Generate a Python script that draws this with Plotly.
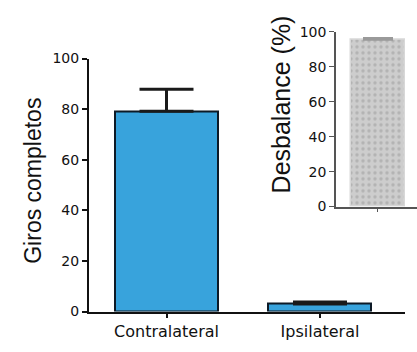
import plotly.graph_objects as go

W, H = 417, 352

categories = ["Contralateral", "Ipsilateral"]
giros = [79.2, 3.0]
giros_err = [8.7, 0.8]
y_ticks = [0, 20, 40, 60, 80, 100]

desbalance = [95.5]
desbalance_err = [1.0]
inset_x = [0]

fig = go.Figure()

fig.add_trace(go.Bar(
    x=categories, y=giros, width=0.671,
    marker=dict(color="#38A3DC", line=dict(color="#0d1a26", width=2)),
    error_y=dict(type="data", symmetric=False, array=giros_err,
                 arrayminus=[0, 0], color="#1a1a1a", thickness=3, width=27),
    xaxis="x", yaxis="y", showlegend=False,
))

fig.add_trace(go.Bar(
    x=inset_x, y=desbalance, width=1,
    marker=dict(color="#c9c9c9", line=dict(color="#d8d8d8", width=1.5),
                pattern=dict(shape=".", fgcolor="#9a9a9a", bgcolor="#cdcdcd",
                             size=6, solidity=0.25)),
    error_y=dict(type="data", symmetric=False, array=desbalance_err,
                 arrayminus=[0], color="#9a9a9a", thickness=2, width=15),
    xaxis="x2", yaxis="y2", showlegend=False,
))

def py(p):
    return 1 - p / H

def px(p):
    return p / W

fig.update_layout(
    width=W, height=H,
    margin=dict(l=0, r=0, t=0, b=0),
    paper_bgcolor="white", plot_bgcolor="rgba(0,0,0,0)",
    font=dict(family="DejaVu Sans", color="#111"),
    bargap=0,
    xaxis=dict(domain=[px(89), px(405)], type="category",
               range=[-0.505, 1.554], showline=True, linecolor="#111",
               linewidth=2, ticks="outside", ticklen=4, tickwidth=1.5,
               tickcolor="#111", showgrid=False, zeroline=False,
               tickfont=dict(family="DejaVu Sans", size=16, color="#111"),
               anchor="y", fixedrange=True),
    yaxis=dict(domain=[py(318), py(53)], range=[0, 100],
               tickvals=y_ticks, showline=True, linecolor="#111",
               linewidth=2, ticks="outside", ticklen=5, tickwidth=1.5,
               tickcolor="#111", showgrid=False, zeroline=False,
               tickfont=dict(family="DejaVu Sans", size=14, color="#111"),
               anchor="x"),
    xaxis2=dict(domain=[px(336), 1.0], range=[-0.787, 0.731],
                tickvals=inset_x, ticktext=[""], showline=True,
                linecolor="#555", linewidth=1.5, ticks="outside",
                ticklen=4, tickwidth=1.2, tickcolor="#555",
                showgrid=False, zeroline=False, anchor="y2"),
    yaxis2=dict(domain=[py(208), py(25)], range=[0, 100],
                tickvals=y_ticks, showline=True, linecolor="#555",
                linewidth=1.5, ticks="outside", ticklen=5, tickwidth=1.2,
                tickcolor="#555", showgrid=False, zeroline=False,
                tickfont=dict(family="DejaVu Sans", size=14, color="#111"),
                anchor="x2"),
    annotations=[
        dict(text="Giros completos", textangle=-90, xref="paper",
             yref="paper", x=px(33), y=py(181), showarrow=False,
             xanchor="center", yanchor="middle",
             font=dict(family="Liberation Sans", size=23, color="#111")),
        dict(text="Desbalance (%)", textangle=-90, xref="paper",
             yref="paper", x=px(281), y=py(101), showarrow=False,
             xanchor="center", yanchor="middle",
             font=dict(family="Liberation Sans", size=25, color="#111")),
    ],
)

fig.write_html("out.html")
